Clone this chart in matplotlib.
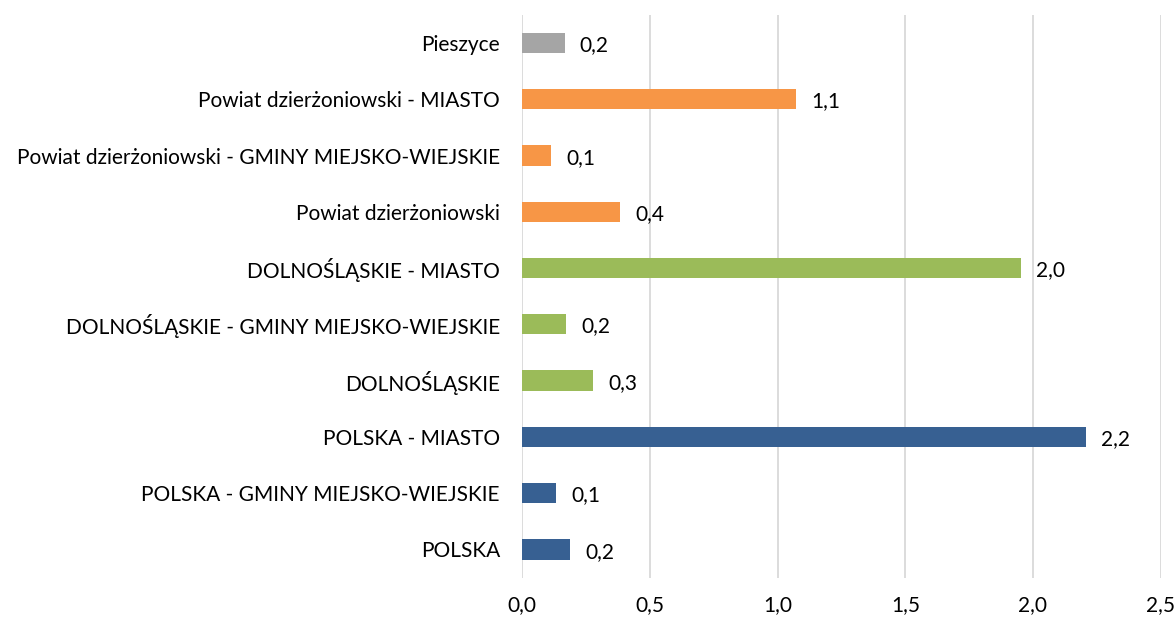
import matplotlib.pyplot as plt

categories = ['POLSKA', 'POLSKA - GMINY MIEJSKO-WIEJSKIE', 'POLSKA - MIASTO',
              'DOLNOŚLĄSKIE', 'DOLNOŚLĄSKIE - GMINY MIEJSKO-WIEJSKIE', 'DOLNOŚLĄSKIE - MIASTO',
              'Powiat dzierżoniowski', 'Powiat dzierżoniowski - GMINY MIEJSKO-WIEJSKIE',
              'Powiat dzierżoniowski - MIASTO', 'Pieszyce']
values = [0.186, 0.132, 2.208, 0.279, 0.173, 1.952, 0.382, 0.112, 1.073, 0.166]
groups = ['kraj', 'kraj', 'kraj', 'woj', 'woj', 'woj', 'powiat', 'powiat', 'powiat', 'gmina']
group_colors = {'kraj': '#376092', 'woj': '#9BBB59', 'powiat': '#F79646', 'gmina': '#A5A5A5'}
xticks = [0, 0.5, 1.0, 1.5, 2.0, 2.5]

plt.rcParams['font.family'] = ['Lato', 'DejaVu Sans']

fig, ax = plt.subplots(figsize=(11.76, 6.19), dpi=100)
fig.subplots_adjust(left=0.444, right=0.987, top=0.976, bottom=0.067)

colors = [group_colors[g] for g in groups]
bars = ax.barh(range(len(categories)), values, height=0.36, color=colors, zorder=3)

for bar, v in zip(bars, values):
    ax.text(bar.get_width() + 0.06, bar.get_y() + bar.get_height() / 2 - 0.04,
            f'{v:.1f}'.replace('.', ','), va='center', ha='left', fontsize=15, color='#000000')

ax.set_yticks(range(len(categories)))
ax.set_yticklabels(categories, fontsize=15)
ax.set_ylim(-0.5, len(categories) - 0.5)
ax.set_xlim(0, 2.5)
ax.set_xticks(xticks)
ax.set_xticklabels([f'{t:.1f}'.replace('.', ',') for t in xticks], fontsize=15)
ax.tick_params(axis='both', length=0)
ax.tick_params(axis='x', pad=13)
ax.tick_params(axis='y', pad=16)
ax.grid(axis='x', color='#D9D9D9', linewidth=1.3, zorder=0)
for s in ax.spines.values():
    s.set_visible(False)

plt.savefig('out.png', dpi=100)
